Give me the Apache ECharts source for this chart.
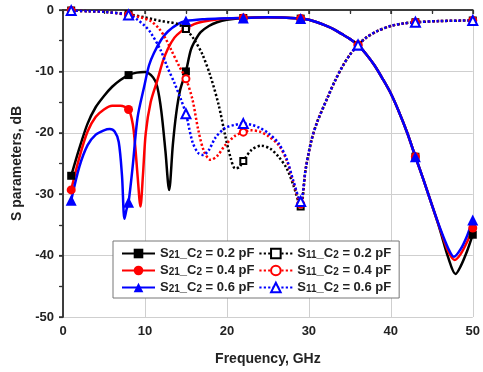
<!DOCTYPE html>
<html>
<head>
<meta charset="utf-8">
<script src="https://cdn.jsdelivr.net/npm/echarts@6/dist/echarts.min.js"></script>
<style>
  html, body { margin: 0; padding: 0; background: #fff; }
  #chart { width: 483px; height: 372px; }
</style>
</head>
<body>
<div id="chart"></div>
<script>
// frequencies (GHz) where the plot puts a marker
var markerFreqs = [1, 8, 15, 22, 29, 36, 43, 50];

// S21, solid lines: [GHz, dB]
var s21Low02 = [[1,-27],[2,-22.5],[3,-18.5],[4,-15.8],[5,-14],[6,-12.5],[7,-11.4],[8,-10.6],[9,-10.2],[10,-10.1],
  [11,-11],[11.5,-12.5],[12,-16.5],[12.5,-23],[12.95,-29.3],[13.4,-22],[13.8,-17],[14.3,-13],[15,-10],[15.6,-6.5],
  [16.2,-4.8],[16.8,-3.6],[17.8,-2.6],[18.8,-2],[20,-1.6]];
var s21Low04 = [[1,-29.3],[2,-24],[3,-19.8],[4,-17.4],[5,-16.2],[6,-15.6],[7,-15.6],[8,-16.2],[8.5,-18.5],[8.8,-22],
  [9.1,-27],[9.45,-32],[9.75,-27],[10.1,-20],[10.7,-15],[11.5,-11.5],[12.2,-8.3],[12.8,-6.3],[13.6,-4.5],[14.3,-3.6],
  [15,-3],[16,-2.3],[17,-1.9],[19,-1.5]];
var s21Low06 = [[1,-31],[2,-25.5],[3,-22],[4,-20.3],[5,-19.6],[5.7,-19.4],[6.3,-19.8],[6.8,-21.5],[7.2,-27],[7.5,-34],
  [7.75,-32.5],[8,-31.3],[8.5,-25.5],[9.1,-17.5],[9.9,-12.5],[10.5,-9],[11.1,-7],[12,-4.8],[12.8,-3.5],[14,-2.3],
  [15,-1.8],[17,-1.5],[19,-1.4]];
var s21Pass = [[22,-1.3],[25,-1.2],[29,-1.4],[30,-1.6],[31,-2],[32,-2.5],[33,-3.1],[34,-3.9],[35,-4.7],[36,-5.7],
  [37,-7.2],[38,-9],[39,-11.2],[40,-13.6],[41,-16.6],[42,-20],[43,-23.9],[44,-27.7],[45,-31.7]];
var s21High02 = [[46,-35.8],[47,-40.3],[47.9,-43],[48.5,-41.8],[49.3,-39.3],[50,-36.6]];
var s21High04 = [[46,-35.6],[47,-39.3],[47.8,-40.7],[48.5,-39.8],[49.3,-37.8],[50,-35.5]];
var s21High06 = [[46,-35.5],[47,-38.8],[47.7,-40.2],[48.5,-39],[49.3,-36.8],[50,-34.2]];

// S11, dotted lines: [GHz, dB]
var s11Low02 = [[1,-0.1],[3,-0.2],[5,-0.3],[8,-0.7],[10,-1.2],[11,-1.5],[12,-1.8],[13,-2],[14,-2.3],[15,-3.1],
  [16,-4.8],[17,-7.2],[18,-10.8],[19,-15.5],[19.8,-20.5],[20.5,-24.3],[21,-25.8],[21.5,-25.6],[22,-24.6],[23,-22.8],
  [24.2,-22.1],[25.3,-22.6],[26.3,-23.9],[27.3,-25.8],[28.1,-28.5],[29,-32]];
var s11Low04 = [[1,-0.1],[3,-0.2],[5,-0.3],[8,-0.8],[9.5,-1.2],[10.7,-1.8],[11.7,-3],[12.5,-4.6],[13.2,-6.5],[14.2,-9.2],
  [15,-11.2],[15.8,-14.6],[16.5,-19.5],[17.2,-23],[18,-24.4],[18.8,-23.8],[19.8,-22],[21,-20.5],[22,-19.9],[23,-19.6],
  [24,-19.8],[25,-20.5],[26.3,-22],[27.3,-24.5],[28.1,-28],[29,-31.6]];
var s11Low06 = [[1,-0.1],[3,-0.2],[5,-0.3],[8,-0.8],[9,-1.5],[10,-2.6],[10.7,-3.7],[11.9,-6.5],[12.7,-9.2],[13.6,-11.9],
  [14.4,-14.6],[15,-16.9],[15.8,-21.5],[16.5,-23.3],[17.1,-23.6],[17.8,-22.8],[18.6,-20.8],[19.8,-19.2],[21,-18.7],
  [22,-18.5],[23,-18.7],[24,-19.2],[25,-20],[26.3,-21.7],[27.3,-24.3],[28.1,-27.8],[29,-31.2]];
var s11High = [[29.6,-26],[30.3,-21.3],[31,-18.3],[32.3,-14.2],[33.2,-11.5],[34.1,-9.2],[35,-7.3],[36,-5.7],[37,-4.5],
  [38.4,-3.4],[40,-2.6],[41.5,-2.2],[43,-2],[46,-1.8],[50,-1.7]];

var capValues = ["0.2", "0.4", "0.6"];
var colors = ["#000000", "#ff0000", "#0000ff"];
var s21Symbols = ["rect", "circle", "triangle"];
var s11Symbols = ["emptyRect", "emptyCircle", "emptyTriangle"];

var s21Data = [
  s21Low02.concat(s21Pass, s21High02),
  s21Low04.concat(s21Pass, s21High04),
  s21Low06.concat(s21Pass, s21High06)
];
var s11Data = [
  s11Low02.concat(s11High),
  s11Low04.concat(s11High),
  s11Low06.concat(s11High)
];

// only keep the symbol on the marker frequencies
function withMarkers(points) {
  return points.map(function (p) {
    if (markerFreqs.indexOf(p[0]) >= 0) return { value: p };
    return { value: p, symbol: "none" };
  });
}

var font = "Liberation Sans";
var chart = echarts.init(document.getElementById("chart"));

var series = [];
var names21 = [], names11 = [];
capValues.forEach(function (c, i) {
  var n = "S21_C2 = " + c + " pF";
  names21.push(n);
  series.push({
    name: n,
    type: "line",
    data: withMarkers(s21Data[i]),
    smooth: 0.3,
    showAllSymbol: true,
    symbol: s21Symbols[i],
    symbolSize: [8, 9, 11][i],
    color: colors[i],
    lineStyle: { width: 2.5, color: colors[i] },
    z: 3
  });
});
capValues.forEach(function (c, i) {
  var n = "S11_C2 = " + c + " pF";
  names11.push(n);
  series.push({
    name: n,
    type: "line",
    data: withMarkers(s11Data[i]),
    smooth: 0.3,
    showAllSymbol: true,
    symbol: s11Symbols[i],
    symbolSize: [6, 7, 9][i],
    color: colors[i],
    itemStyle: { borderWidth: 1.8 },
    lineStyle: { width: 2.5, color: colors[i], type: [2.2, 2.2] },
    z: 4
  });
});

var labelStyle = { color: "#222", fontFamily: font, fontWeight: "bold", fontSize: 13 };

chart.setOption({
  animation: false,
  backgroundColor: "#fff",
  grid: { left: 63, right: 7, top: 10, bottom: 55 },
  legend: {
    data: names21.concat(names11),
    orient: "vertical",
    left: 113,
    top: 241,
    height: 50,
    padding: [6, 8, 4, 8],
    itemGap: 4,
    itemWidth: 33,
    itemHeight: 12,
    borderColor: "#777",
    borderWidth: 1,
    backgroundColor: "#fff",
    formatter: function (name) {
      return name.replace(/^S(\d\d)_C2 = (.*)$/, "{t|S}{s|$1}{t|_C}{s|2}{t| = $2}");
    },
    textStyle: {
      rich: {
        t: { fontFamily: font, fontWeight: "bold", fontSize: 13, color: "#222", lineHeight: 13 },
        s: { fontFamily: font, fontWeight: "bold", fontSize: 10, color: "#222", lineHeight: 13, verticalAlign: "bottom" }
      }
    }
  },
  xAxis: [
    {
      type: "value", min: 0, max: 50, interval: 10,
      name: "Frequency, GHz", nameLocation: "middle", nameGap: 35,
      nameTextStyle: { color: "#222", fontFamily: font, fontWeight: "bold", fontSize: 14 },
      axisLine: { lineStyle: { color: "#333", width: 1.5 } },
      axisTick: { length: 4, lineStyle: { color: "#333", width: 1.5 } },
      minorTick: { show: true, splitNumber: 2, length: 3, lineStyle: { color: "#333", width: 1.2 } },
      splitLine: { show: true, lineStyle: { color: "#cfcfcf", width: 1 } },
      axisLabel: Object.assign({ margin: 8 }, labelStyle)
    },
    {
      type: "value", min: 0, max: 50, interval: 5, position: "top",
      axisLine: { show: true, lineStyle: { color: "#333", width: 1.5 } },
      axisTick: { show: true, inside: true, length: 4, lineStyle: { color: "#333", width: 1.2 } },
      axisLabel: { show: false },
      splitLine: { show: false }
    }
  ],
  yAxis: [
    {
      type: "value", min: -50, max: 0, interval: 10,
      name: "S parameters, dB", nameLocation: "middle", nameGap: 38,
      nameTextStyle: { color: "#222", fontFamily: font, fontWeight: "bold", fontSize: 14 },
      axisLine: { show: true, lineStyle: { color: "#333", width: 1.5 } },
      axisTick: { show: true, length: 4, lineStyle: { color: "#333", width: 1.5 } },
      minorTick: { show: true, splitNumber: 2, length: 3, lineStyle: { color: "#333", width: 1.2 } },
      splitLine: { show: true, lineStyle: { color: "#cfcfcf", width: 1 } },
      axisLabel: Object.assign({ margin: 9 }, labelStyle)
    },
    {
      type: "value", min: -50, max: 0, interval: 5, position: "right",
      axisLine: { show: true, lineStyle: { color: "#333", width: 1.5 } },
      axisTick: { show: true, inside: true, length: 4, lineStyle: { color: "#333", width: 1.2 } },
      axisLabel: { show: false },
      splitLine: { show: false }
    }
  ],
  series: series
});
</script>
</body>
</html>
